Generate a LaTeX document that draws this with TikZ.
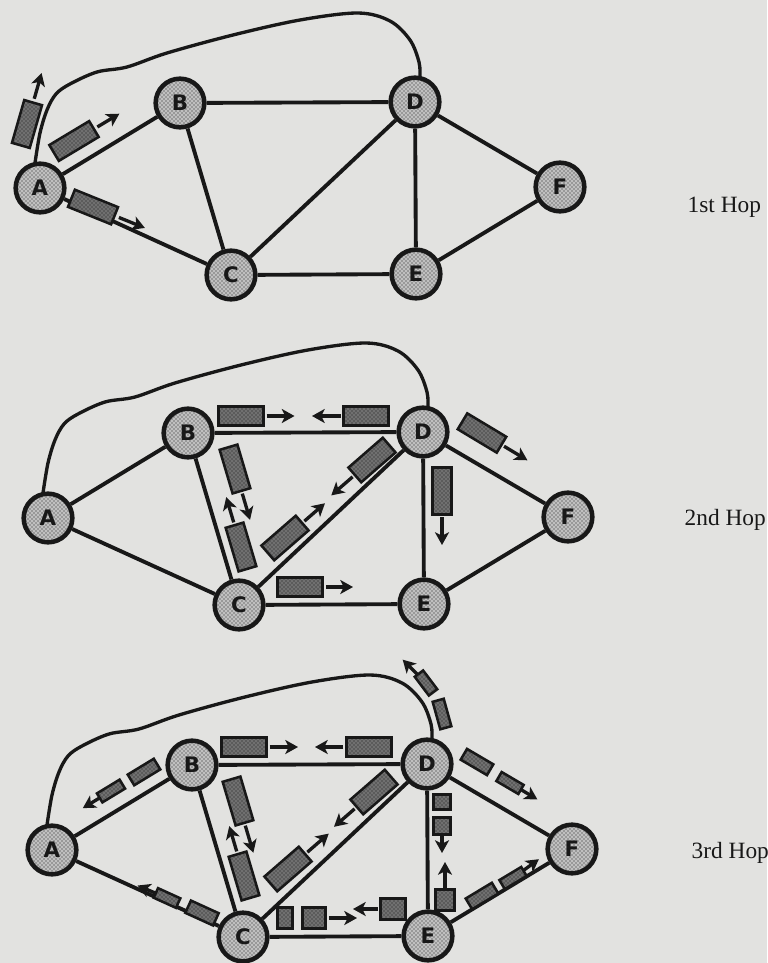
\documentclass[tikz,border=0pt]{standalone}
\usepackage{fontspec}
\setmainfont{Liberation Serif}
\newfontfamily\lblfont{DejaVu Sans}
\usetikzlibrary{arrows.meta,patterns}
\definecolor{paper}{RGB}{226,226,224}
\definecolor{ink}{RGB}{24,24,24}
\definecolor{nodebg}{RGB}{192,192,192}
\definecolor{pktbg}{RGB}{112,112,112}
\tikzset{
  nd/.style={circle, draw=ink, line width=3.4pt, preaction={fill=nodebg}, pattern=crosshatch dots, pattern color=ink,
    minimum size=36.5pt, inner sep=0pt, text=ink, font=\lblfont\bfseries\fontsize{16}{16}\selectfont},
  link/.style={draw=ink, line width=2.9pt},
  outer/.style={draw=ink, line width=2.5pt},
  pkt/.style={draw=ink, line width=1.9pt, preaction={fill=pktbg}, pattern=crosshatch dots, pattern color=ink, inner sep=0pt, outer sep=0pt},
  arr/.style={draw=ink, line width=2.5pt, -{Stealth[length=9.5pt,width=10.5pt,inset=2.5pt]}},
  hoplbl/.style={anchor=base west, text=ink, font=\fontsize{17.5}{20}\selectfont}
}
\newcommand\pk[6]{\node[pkt, minimum width={(#5-1.5)*0.75pt}, minimum height={(#6-1.5)*0.75pt}, rotate=#4] (#1) at (#2,-#3) {};}
\newcommand\pa[5]{\path (#1.center) ++(#2:#3) coordinate (#5); \draw[arr, shorten <=#4] (#1) -- (#5);}
\newcommand\net[1]{%
  \node[nd] (A#1) at (40,-188) {A};
  \node[nd] (B#1) at (180,-103) {B};
  \node[nd] (C#1) at (231,-275) {C};
  \node[nd] (D#1) at (415,-102) {D};
  \node[nd] (E#1) at (416,-274) {E};
  \node[nd] (F#1) at (560,-187) {F};
  \draw[link] (A#1) -- (B#1);
  \draw[link] (A#1) -- (C#1);
  \draw[link] (B#1) -- (D#1);
  \draw[link] (B#1) -- (C#1);
  \draw[link] (C#1) -- (D#1);
  \draw[link] (C#1) -- (E#1);
  \draw[link] (D#1) -- (E#1);
  \draw[link] (D#1) -- (F#1);
  \draw[link] (E#1) -- (F#1);
  \draw[outer] plot[smooth, tension=0.55] coordinates {(35,-163) (40,-133) (47,-110) (56,-94) (70,-84) (97,-72) (127,-67) (167,-53) (233,-35) (300,-20) (358,-13) (390,-21) (410,-40) (419,-62) (420,-77)};
}
\begin{document}
\begin{tikzpicture}[x=0.75pt,y=0.75pt]
\fill[paper] (0,0) rectangle (767,-963);
\useasboundingbox (0,0) rectangle (767,-963);

% ---------- 1st hop ----------
\begin{scope}
  \net{1}
  \pk{pa1}{27}{124}{74}{46}{20}   \pa{pa1}{74}{53}{3pt}{ta1}
  \pk{pb1}{74}{141}{31}{48}{20}   \pa{pb1}{31}{53}{3pt}{tb1}
  \pk{pc1}{93}{207}{-22}{48}{20}  \pa{pc1}{-22}{56}{3.5pt}{tc1}
\end{scope}
\node[hoplbl] (h1) at (683,-212) {1st Hop};

% ---------- 2nd hop ----------
\begin{scope}[shift={(8,-330)}]
  \net{2}
  \pk{qa}{233}{86}{0}{47}{21}      \pa{qa}{0}{53.5}{2.2pt}{tqa}
  \pk{qb}{358}{86}{180}{47}{21}    \pa{qb}{180}{54}{2pt}{tqb}
  \pk{qc}{227}{139}{-73.5}{47}{20} \pa{qc}{-73.5}{53}{2.2pt}{tqc}
  \pk{qd}{233}{217}{106.5}{47}{20} \pa{qd}{106.5}{52}{2.2pt}{tqd}
  \pk{qe}{277}{208}{41}{47}{21}    \pa{qe}{41}{53}{2.2pt}{tqe}
  \pk{qf}{364}{130}{221}{47}{21}   \pa{qf}{221}{54}{2.2pt}{tqf}
  \pk{qg}{292}{257}{0}{47}{20}     \pa{qg}{0}{53}{2.5pt}{tqg}
  \pk{qh}{474}{103}{-31}{47}{20}   \pa{qh}{-31}{53}{2.2pt}{tqh}
  \pk{qi}{434}{161}{-90}{48}{21}   \pa{qi}{-90}{54}{2.2pt}{tqi}
\end{scope}
\node[hoplbl] (h2) at (680,-525) {2nd Hop};

% ---------- 3rd hop ----------
\begin{scope}[shift={(12,-662)}]
  \net{3}
  \pk{ra}{232}{85}{0}{47}{21}      \pa{ra}{0}{54}{2.2pt}{tra}
  \pk{rb}{357}{85}{180}{47}{21}    \pa{rb}{180}{54}{2.2pt}{trb}
  \pk{rc}{226}{139}{-73.5}{47}{20} \pa{rc}{-73.5}{54}{2.2pt}{trc}
  \pk{rd}{232}{214}{106.5}{47}{20} \pa{rd}{106.5}{52}{2.2pt}{trd}
  \pk{re}{276}{207}{41}{47}{21}    \pa{re}{41}{54}{2.2pt}{tre}
  \pk{rf}{362}{130}{221}{47}{21}   \pa{rf}{221}{53}{2.2pt}{trf}
  \pk{rg1}{132}{110}{211.3}{32}{14}
  \pk{rg2}{99}{129}{211.3}{28}{12}  \pa{rg2}{211.3}{33}{0pt}{trg}
  \pk{rh1}{190}{251}{155.5}{32}{15}
  \pk{rh2}{155}{236}{155.5}{26}{12} \pa{rh2}{157}{32}{0pt}{trh}
  \pk{ri1}{273}{256}{0}{16}{23}
  \pk{ri2}{302}{256}{0}{25}{23}     \pa{ri2}{0}{43}{2.5pt}{tri}
  \pk{rj}{381}{247}{180}{27}{22}    \pa{rj}{180}{40}{2pt}{trj}
  \pk{rk1}{430}{52}{105.5}{30}{13}
  \pk{rk2}{414}{21}{127}{25}{12}    \pa{rk2}{135}{33}{0pt}{trk}
  \pk{rl1}{465}{100}{-30.4}{32}{14}
  \pk{rl2}{498}{121}{-30.4}{27}{12} \pa{rl2}{-31}{32}{0pt}{trl}
  \pk{rm1}{430}{140}{0}{18}{17}
  \pk{rm2}{430}{164}{0}{18}{18}     \pa{rm2}{-90}{27}{1.5pt}{trm}
  \pk{rn}{433}{238}{0}{21}{23}      \pa{rn}{90}{38}{0pt}{trn}
  \pk{ro1}{470}{234}{31}{32}{14}
  \pk{ro2}{501}{216}{31}{27}{12}    \pa{ro2}{36}{32}{0pt}{tro}
\end{scope}
\node[hoplbl] (h3) at (687,-858) {3rd Hop};
\end{tikzpicture}
\end{document}
